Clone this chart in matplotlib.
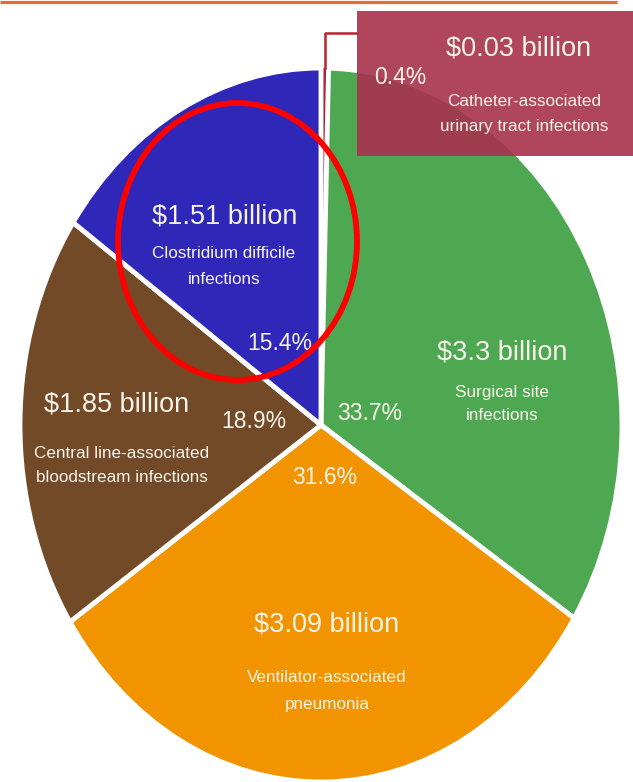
import numpy as np
import matplotlib.pyplot as plt
from matplotlib.patches import Ellipse, Rectangle

# slices, clockwise from 12 o'clock
names = [
    ('Catheter-associated', 'urinary tract infections'),
    ('Surgical site', 'infections'),
    ('Ventilator-associated', 'pneumonia'),
    ('Central line-associated', 'bloodstream infections'),
    ('Clostridium difficile', 'infections'),
]
costs = ['$0.03 billion', '$3.3 billion', '$3.09 billion', '$1.85 billion', '$1.51 billion']
shares = [0.4, 33.7, 31.6, 18.9, 15.4]
colors = ['#B22234', '#4EA852', '#F29400', '#724A28', '#2E27B8']

# label layout in pixels (x, y from top): cost, name lines, percent
cost_pos = [(519, 48), (502, 352), (327, 625), (117, 405), (225, 217)]
name_pos = [(524, 101, 26), (502, 392, 23), (327, 677, 28), (122, 453, 25), (224, 253, 27)]
pct_pos = [(400, 77), (370, 414), (325, 477), (254, 421), (280, 344)]

W, H = 633, 782
CX, CY, RX, RY = 321, 425, 301, 357   # pie drawn as an ellipse (stretched picture)


def X(px):
    return (px - CX) / RX


def Y(py):
    return (CY - py) / RY


FONT = ['Liberation Sans', 'DejaVu Sans']
TXT = '#F8F4EA'

fig = plt.figure(figsize=(W / 100, H / 100), dpi=100)
ax = fig.add_axes([0, 0, 1, 1])

wedges, _ = ax.pie(shares, colors=colors, startangle=90, counterclock=False,
                   radius=1, center=(0, 0), normalize=True,
                   wedgeprops=dict(edgecolor='white', linewidth=3.5))
wedges[0].set_linewidth(0)
wedges[0].set_zorder(0.5)
ax.set_aspect('auto')
ax.set_xlim(X(0), X(W))
ax.set_ylim(Y(H), Y(0))
ax.axis('off')

# orange rule at the top
ax.plot([X(0), X(617)], [Y(1.5), Y(1.5)], color='#E86B33', lw=2.3,
        solid_capstyle='butt', zorder=5)

# catheter callout box and connector
ax.add_patch(Rectangle((X(357), Y(156)), X(W) - X(357), Y(11) - Y(156),
                       facecolor='#A8324E', alpha=0.91, edgecolor='none', zorder=4))
mid = np.radians((wedges[0].theta1 + wedges[0].theta2) / 2)
ax.plot([np.cos(mid), np.cos(mid), X(357)], [np.sin(mid), Y(33), Y(33)],
        color='#B7232F', lw=1.8, zorder=3)

for i in range(len(shares)):
    cx, cy = cost_pos[i]
    ax.text(X(cx), Y(cy), costs[i], ha='center', va='center', color=TXT,
            fontsize=19.5, family=FONT, zorder=6)
    nx, ny, gap = name_pos[i]
    for k, line in enumerate(names[i]):
        ax.text(X(nx), Y(ny + k * gap), line, ha='center', va='center',
                color=TXT, fontsize=12.3, family=FONT, zorder=6)
    px, py = pct_pos[i]
    ax.text(X(px), Y(py), f'{shares[i]:.1f}%', ha='center', va='center',
            color=TXT, fontsize=16.5, family=FONT, zorder=6)

# red highlight ring around the C. difficile label
ax.add_patch(Ellipse((X(237.5), Y(241.5)), 239 / RX, 277 / RY, fill=False,
                     edgecolor='#FF0000', lw=4.2, zorder=7))

fig.savefig('out.png', dpi=100)
